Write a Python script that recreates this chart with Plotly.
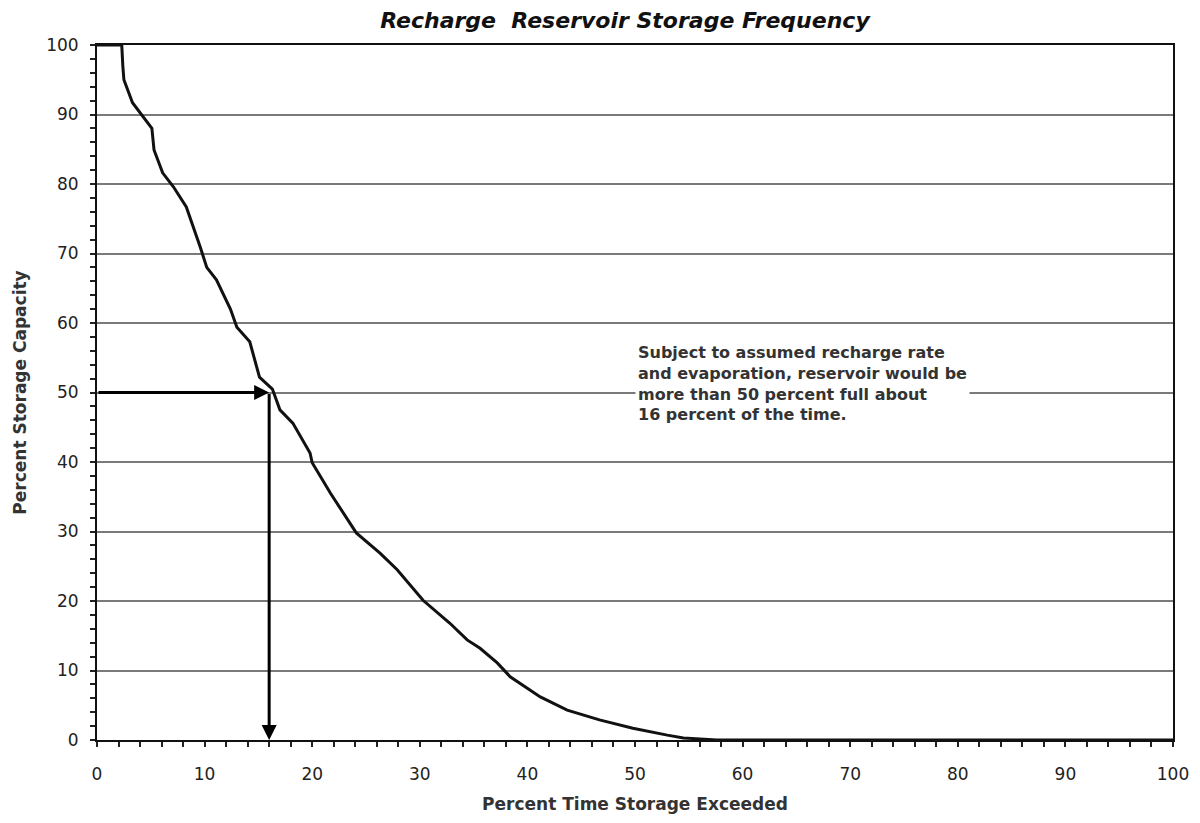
import plotly.graph_objects as go

# Data
time_exceeded = [0, 2.3, 2.4, 2.5, 3.3, 4.3, 5.1, 5.3, 6.1, 7.1, 8.3, 9.6, 10.2, 11.1, 12.4,
                 13.0, 14.2, 15.1, 16.3, 17.0, 18.2, 19.8, 20.0, 21.7, 24.1, 26.3, 27.9, 30.3,
                 32.8, 34.4, 35.6, 37.2, 38.4, 41.2, 43.7, 46.7, 49.8, 53.0, 54.5, 57.6, 100]
storage_capacity = [100, 100, 97, 95, 91.7, 89.6, 88, 84.9, 81.6, 79.6, 76.7, 70.9, 68, 66.2, 62,
                    59.4, 57.3, 52.2, 50.5, 47.5, 45.6, 41.3, 39.9, 35.5, 29.8, 26.9, 24.5, 20.1,
                    16.8, 14.4, 13.2, 11.1, 9.1, 6.2, 4.3, 2.9, 1.7, 0.7, 0.3, 0, 0]
marker_exceed = 16
marker_storage = 50
x_ticks = [0, 10, 20, 30, 40, 50, 60, 70, 80, 90, 100]
y_ticks = [0, 10, 20, 30, 40, 50, 60, 70, 80, 90, 100]
note_text = ("Subject to assumed recharge rate<br>and evaporation, reservoir would be<br>"
             "more than 50 percent full about<br>16 percent of the time.")

FONT = "DejaVu Sans, Arial, sans-serif"

fig = go.Figure()
fig.add_trace(go.Scatter(x=time_exceeded, y=storage_capacity, mode="lines",
                         line=dict(color="#111111", width=3), showlegend=False))

axis_common = dict(showline=True, mirror=True, linecolor="#111111", linewidth=2,
                   ticks="outside", ticklen=5, tickwidth=2, tickcolor="#222222",
                   tickfont=dict(family=FONT, size=17, color="#222222"),
                   zeroline=False, automargin=False)

fig.update_xaxes(range=[0, 100], tickvals=x_ticks, showgrid=False, ticklabelstandoff=13,
                 minor=dict(dtick=2, ticks="outside", ticklen=5, tickwidth=2, tickcolor="#222222"),
                 title=dict(text="<b>Percent Time Storage Exceeded</b>",
                            font=dict(family=FONT, size=17, color="#333333"), standoff=15),
                 **axis_common)
fig.update_yaxes(range=[0, 100], tickvals=y_ticks, showgrid=True, gridcolor="#7a7a7a", gridwidth=2,
                 ticklabelstandoff=8,
                 minor=dict(dtick=2, ticks="outside", ticklen=5, tickwidth=2, tickcolor="#222222",
                            showgrid=False),
                 title=dict(text="<b>Percent Storage Capacity</b>",
                            font=dict(family=FONT, size=17, color="#333333"), standoff=15),
                 **axis_common)

# Arrows
fig.add_annotation(x=marker_exceed, y=marker_storage, ax=0, ay=marker_storage,
                   xref="x", yref="y", axref="x", ayref="y", text="", showarrow=True,
                   arrowhead=2, arrowsize=1, arrowwidth=3, arrowcolor="#000000", standoff=0)
fig.add_annotation(x=marker_exceed, y=0, ax=marker_exceed, ay=marker_storage,
                   xref="x", yref="y", axref="x", ayref="y", text="", showarrow=True,
                   arrowhead=2, arrowsize=1, arrowwidth=3, arrowcolor="#000000", standoff=0)

# Note
fig.add_annotation(x=50.0, y=marker_storage, xref="x", yref="y", xanchor="left", yanchor="middle",
                   text="<b>" + note_text + "</b>", showarrow=False, align="left",
                   bgcolor="white", borderpad=2, yshift=9,
                   font=dict(family=FONT, size=16, color="#333333"))

fig.update_layout(
    width=1192, height=815,
    margin=dict(l=89, r=27, t=37, b=83, autoexpand=False),
    paper_bgcolor="white", plot_bgcolor="white",
    title=dict(text="<b><i>Recharge  Reservoir Storage Frequency</i></b>",
               x=0.5176, xanchor="center", y=0.985, yanchor="middle",
               font=dict(family=FONT, size=22, color="#111111")),
)

fig.write_html("out.html")
